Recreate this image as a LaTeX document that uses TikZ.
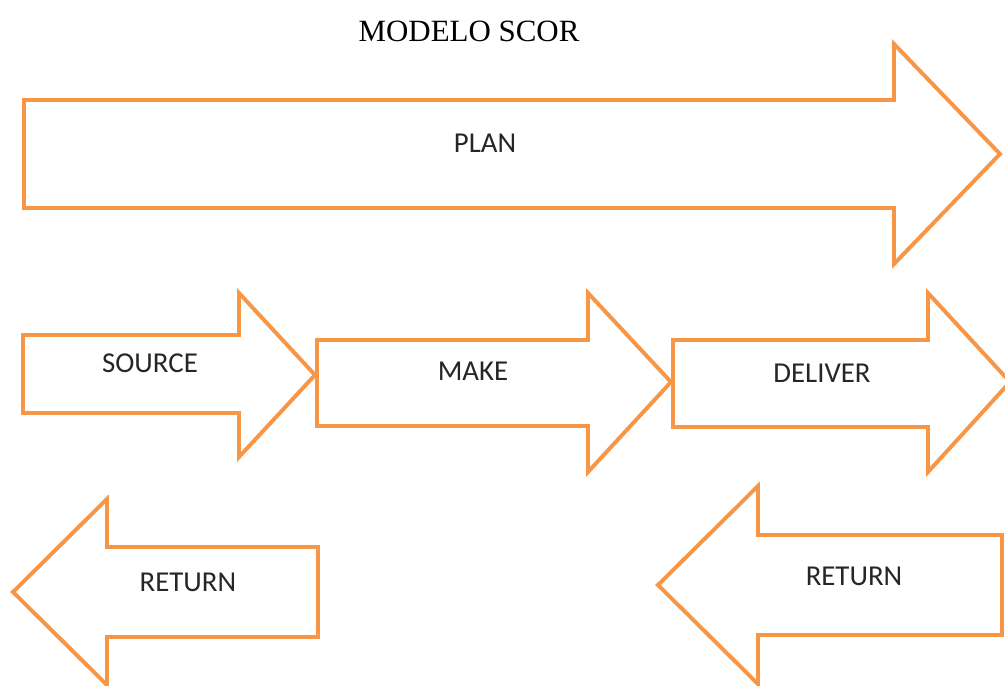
\documentclass[tikz,border=0pt]{standalone}
\usepackage{fontspec}
\setmainfont{Liberation Serif}
\newfontfamily\labfont{Carlito}
\usepackage{tikz}
\definecolor{scororange}{HTML}{F79646}
\definecolor{labtext}{HTML}{262626}
\tikzset{
  arrowline/.style={draw=scororange, line width=2.8pt, line join=miter},
  lab/.style={text=labtext, font=\labfont\fontsize{20.5}{24}\selectfont, inner sep=0pt},
  heading/.style={text=black, font=\fontsize{22}{26}\selectfont, inner sep=0pt},
}

\begin{document}
\begin{tikzpicture}[x=0.25mm, y=-0.25mm]
  \useasboundingbox (0,0) rectangle (1005,686);

  % big plan arrow
  \draw[arrowline] (24,100) -- (894,100) -- (894,44) -- (1000,154) -- (894,264) -- (894,208) -- (24,208) -- cycle;

  % process arrows
  \draw[arrowline] (23,335) -- (239,335) -- (239,293) -- (315,375) -- (239,457) -- (239,413) -- (23,413) -- cycle;
  \draw[arrowline] (317,340) -- (588,340) -- (588,293) -- (671,382) -- (588,472) -- (588,426) -- (317,426) -- cycle;
  \draw[arrowline] (673,340) -- (928,340) -- (928,293) -- (1010,382) -- (928,472) -- (928,427) -- (673,427) -- cycle;

  % return arrows
  \draw[arrowline] (318,547) -- (107,547) -- (107,499) -- (13,592) -- (107,685) -- (107,637) -- (318,637) -- cycle;
  \draw[arrowline] (1002,535) -- (758,535) -- (758,486) -- (658,585) -- (758,684) -- (758,635) -- (1002,635) -- cycle;

  \node[heading] (title) at (469,31) {MODELO SCOR};
  \node[lab] (plan) at (485,143) {PLAN};
  \node[lab] (source) at (150,363) {SOURCE};
  \node[lab] (make) at (473,371) {MAKE};
  \node[lab] (deliver) at (822,373) {DELIVER};
  \node[lab] (retleft) at (188,582) {RETURN};
  \node[lab] (retright) at (854,576) {RETURN};
\end{tikzpicture}
\end{document}
